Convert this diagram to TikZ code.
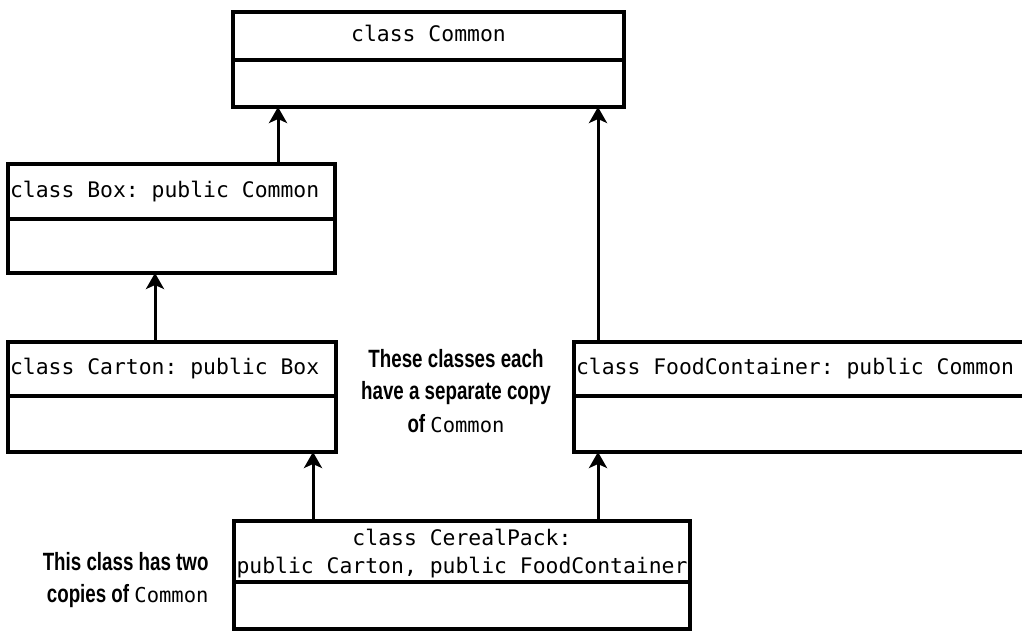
\documentclass[tikz,border=0pt]{standalone}
\usepackage{fontspec}
\setmonofont{DejaVu Sans Mono}
\newfontfamily\notefont[FakeStretch=0.75]{Liberation Sans}
\usetikzlibrary{positioning, arrows.meta}

\begin{document}
\frenchspacing
\begin{tikzpicture}[
    x=1pt, y=-1pt,
    classhead/.style={draw, line width=4pt, outer sep=0pt, inner xsep=2pt, inner ysep=0pt,
                      font=\fontsize{21.4}{28}\selectfont\ttfamily, align=center},
    lefthead/.style={classhead, text width=#1, align=left,
                     execute at begin node={\spaceskip=0pt\xspaceskip=0pt}},
    classbody/.style={draw, line width=4pt, outer sep=0pt, inner sep=0pt},
    note/.style={font=\fontsize{25}{32.5}\selectfont\notefont\bfseries},
    arr/.style={-{Stealth[length=16pt, width=18pt, inset=4pt]}, line width=3pt},
]
\useasboundingbox (0,0) rectangle (1022,631);

%% -- class Common ---------------------------------------------------------
\node[classhead, minimum width=391pt, minimum height=48pt] (common) at (428.5, 36) {class Common\vphantom{y}};
\node[classbody, minimum width=391pt, minimum height=47pt, below=0pt of common] (commonB) {};

%% -- class Box ------------------------------------------------------------
\node[lefthead=323pt, minimum height=55pt] (box) at (171.5, 191.5) {class Box: public Common};
\node[classbody, minimum width=327pt, minimum height=54pt, below=0pt of box] (boxB) {};

%% -- class Carton ---------------------------------------------------------
\node[lefthead=324pt, minimum height=54pt] (carton) at (172, 369) {class Carton: public Box};
\node[classbody, minimum width=328pt, minimum height=56pt, below=0pt of carton] (cartonB) {};

%% -- class FoodContainer --------------------------------------------------
\node[lefthead=452pt, minimum height=54pt] (food) at (802, 369) {class FoodContainer: public Common};
\node[classbody, minimum width=456pt, minimum height=56pt, below=0pt of food] (foodB) {};

%% -- class CerealPack -----------------------------------------------------
\node[classhead, minimum width=456pt, minimum height=61pt] (cereal) at (462, 551.5)
     {\strut class CerealPack:\\public Carton, public FoodContainer};
\node[classbody, minimum width=456pt, minimum height=47pt, below=0pt of cereal] (cerealB) {};

%% -- arrow end points -----------------------------------------------------
\coordinate (c1) at ([xshift=45pt]commonB.south west);
\coordinate (c2) at ([xshift=-26pt]commonB.south east);
\coordinate (c3) at ([xshift=147pt]boxB.south west);
\coordinate (c4) at ([xshift=-23pt]cartonB.south east);
\coordinate (c5) at ([xshift=24pt]foodB.south west);

\draw[arr] (box.north -| c1) -- (c1);
\draw[arr] (food.north -| c2) -- (c2);
\draw[arr] (carton.north -| c3) -- (c3);
\draw[arr] (cereal.north -| c4) -- (c4);
\draw[arr] (cereal.north -| c5) -- (c5);

%% -- notes ----------------------------------------------------------------
\node[note, align=center] (sepnote) at (456, 391)
     {These classes each\\have a separate copy\\of {\mdseries\fontsize{20.5}{32}\selectfont\ttfamily Common}};
\node[note, align=right, anchor=east] (twonote) at (212, 580)
     {This class has two\\copies of {\mdseries\fontsize{20.5}{32}\selectfont\ttfamily Common}};

\end{tikzpicture}
\end{document}
